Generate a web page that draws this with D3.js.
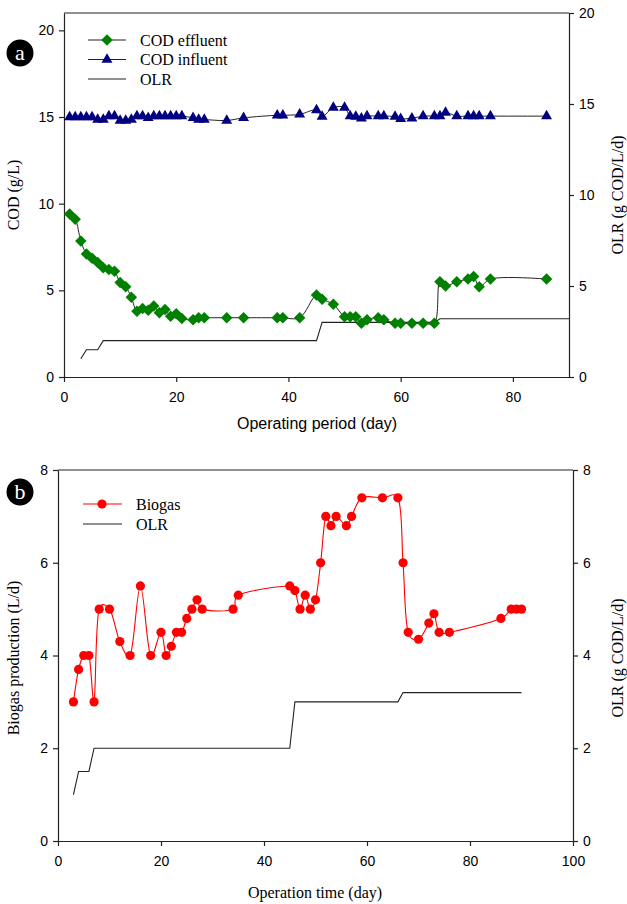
<!DOCTYPE html>
<html>
<head>
<meta charset="utf-8">
<script src="https://cdn.jsdelivr.net/npm/d3@7"></script>
<style>
  body { margin: 0; background: #fff; }
  .tick text { font-family: "Liberation Sans", Arial, sans-serif; font-size: 14px; fill: #000; }
  .domain, .tick line { stroke: #222; stroke-width: 1.2; }
  .serif { font-family: "Liberation Serif", "Times New Roman", serif; }
  .sans { font-family: "Liberation Sans", Arial, sans-serif; }
</style>
</head>
<body>
<svg width="627" height="904"></svg>
<script>
// ---- panel a : COD ----
const codDays = [1, 2, 3, 4, 5, 6, 7, 8, 9, 10, 11, 12, 13, 14, 15, 16, 17, 18, 19, 20, 21, 23, 24, 25, 29, 32, 38, 39, 42,
                 45, 46, 48, 50, 51, 52, 53, 54, 56, 57, 59, 60, 62, 64, 66, 67, 68, 70, 72, 73, 74, 76, 86];
const codEffluent = [9.4, 9.1, 7.85, 7.1, 6.85, 6.6, 6.3, 6.2, 6.1, 5.45, 5.2, 4.6, 3.8, 3.95, 3.85, 4.1, 3.7, 3.9, 3.5, 3.65, 3.38,
                     3.3, 3.42, 3.42, 3.42, 3.42, 3.42, 3.42, 3.42,
                     4.73, 4.48, 4.2, 3.48, 3.48, 3.48, 3.1, 3.3, 3.42, 3.3, 3.1, 3.1, 3.1, 3.1, 3.1,
                     5.5, 5.25, 5.5, 5.65, 5.8, 5.2, 5.65, 5.65];
const codInfluent = [15.0, 15.0, 15.0, 15.0, 15.0, 14.85, 14.85, 15.05, 15.05, 14.8, 14.8, 14.85, 15.05, 15.05, 14.95, 15.05, 15.05,
                     15.05, 15.05, 15.05, 15.05, 14.95, 14.85, 14.85, 14.8, 14.95, 15.1, 15.1, 15.15,
                     15.4, 15.02, 15.55, 15.55, 15.05, 15.02, 14.93, 15.05, 15.05, 15.05, 15.02, 14.9, 14.93, 15.05, 15.05,
                     15.05, 15.25, 15.05, 15.05, 15.05, 15.05, 15.05, 15.05];

// ---- OLR (same schedule in both panels) ----
const olrDaysA = [3, 4, 6, 7, 45, 46, 66, 67, 90];
const olrA = [1.0, 1.5, 1.5, 2.0, 2.0, 3.0, 3.0, 3.2, 3.2];

// ---- panel b : biogas ----
const gasDays = [3, 4, 5, 6, 7, 8, 10, 12, 14, 16, 18, 20, 21, 22, 23, 24, 25, 26, 27, 28, 34, 35,
                 45, 46, 47, 48, 49, 50, 51, 52, 53, 54, 56, 57, 59, 63, 66, 67, 68, 70, 72, 73, 74, 76, 86, 88, 89, 90];
const biogas = [3.0, 3.7, 4.0, 4.0, 3.0, 5.0, 5.0, 4.3, 4.0, 5.5, 4.0, 4.5, 4.0, 4.2, 4.5, 4.5, 4.8, 5.0, 5.2, 5.0, 5.0, 5.3,
                5.5, 5.4, 5.0, 5.3, 5.0, 5.2, 6.0, 7.0, 6.8, 7.0, 6.8, 7.0, 7.4, 7.4, 7.4, 6.0, 4.5, 4.35, 4.7, 4.9, 4.5, 4.5,
                4.8, 5.0, 5.0, 5.0];
const olrDaysB = [3, 4, 6, 7, 45, 46, 66, 67, 90];
const olrB = [1.0, 1.5, 1.5, 2.0, 2.0, 3.0, 3.0, 3.2, 3.2];

const ticksA = [0, 20, 40, 60, 80];
const ticksAy = [0, 5, 10, 15, 20];
const ticksB = [0, 20, 40, 60, 80, 100];
const ticksBy = [0, 2, 4, 6, 8];

const svg = d3.select('svg');

function zip(xs, ys) { return xs.map((d, i) => ({x: d, y: ys[i]})); }

// =============== panel a ===============
const A = {left: 64, right: 569, top: 13, bottom: 377};
const xa = d3.scaleLinear().domain([0, 90]).range([A.left, A.right]);
const ya = d3.scaleLinear().domain([0, 21]).range([A.bottom, A.top]);
const yaR = d3.scaleLinear().domain([0, 20]).range([A.bottom, A.top]);

const ga = svg.append('g');

// box top
ga.append('line').attr('x1', A.left).attr('x2', A.right).attr('y1', A.top).attr('y2', A.top)
  .attr('stroke', '#222').attr('stroke-width', 1.2);

ga.append('g').attr('transform', 'translate(0,' + A.bottom + ')')
  .call(d3.axisBottom(xa).tickValues(ticksA).tickSize(5).tickSizeOuter(0).tickPadding(10));
ga.append('g').attr('transform', 'translate(' + A.left + ',0)')
  .call(d3.axisLeft(ya).tickValues(ticksAy).tickSize(5).tickSizeOuter(0).tickPadding(5));
ga.append('g').attr('transform', 'translate(' + A.right + ',0)')
  .call(d3.axisRight(yaR).tickValues(ticksAy).tickSize(5).tickSizeOuter(0).tickPadding(5));

const lineA = d3.line().x(d => xa(d.x)).y(d => ya(d.y)).curve(d3.curveCatmullRom);
const olrLineA = d3.line().x(d => xa(d.x)).y(d => yaR(d.y));

const effl = zip(codDays, codEffluent);
const infl = zip(codDays, codInfluent);

ga.append('path').datum(zip(olrDaysA, olrA)).attr('d', olrLineA)
  .attr('fill', 'none').attr('stroke', '#222').attr('stroke-width', 1.1);
ga.append('path').datum(effl).attr('d', lineA)
  .attr('fill', 'none').attr('stroke', '#222').attr('stroke-width', 1);
ga.append('path').datum(infl).attr('d', lineA)
  .attr('fill', 'none').attr('stroke', '#222').attr('stroke-width', 1);

const diamond = d3.symbol().type(d3.symbolSquare).size(66);
const tri = d3.symbol().type(d3.symbolTriangle).size(52);

ga.selectAll('.eff').data(effl).enter().append('path')
  .attr('d', diamond)
  .attr('transform', d => 'translate(' + xa(d.x) + ',' + ya(d.y) + ') rotate(45)')
  .attr('fill', '#008000');
ga.selectAll('.inf').data(infl).enter().append('path')
  .attr('d', tri)
  .attr('transform', d => 'translate(' + xa(d.x) + ',' + ya(d.y) + ')')
  .attr('fill', '#000080');

// legend a
const legA = ga.append('g');
[['COD effluent', 'eff'], ['COD influent', 'inf'], ['OLR', 'olr']].forEach((r, i) => {
  const y = 40 + i * 19.5;
  legA.append('line').attr('x1', 88).attr('x2', 126).attr('y1', y).attr('y2', y)
    .attr('stroke', '#222').attr('stroke-width', 1.1);
  if (r[1] === 'eff') legA.append('path').attr('d', diamond).attr('transform', 'translate(107,' + y + ') rotate(45)').attr('fill', '#008000');
  if (r[1] === 'inf') legA.append('path').attr('d', tri).attr('transform', 'translate(107,' + y + ')').attr('fill', '#000080');
  legA.append('text').attr('class', 'serif').attr('x', 140).attr('y', y + 5.5)
    .attr('font-size', 16).text(r[0]);
});

// axis labels a
ga.append('text').attr('class', 'sans').attr('x', 317).attr('y', 429)
  .attr('text-anchor', 'middle').attr('font-size', 16).text('Operating period (day)');
ga.append('text').attr('class', 'serif').attr('transform', 'translate(19,195) rotate(-90)')
  .attr('text-anchor', 'middle').attr('font-size', 16).text('COD (g/L)');
ga.append('text').attr('class', 'serif').attr('transform', 'translate(623,195) rotate(-90)')
  .attr('text-anchor', 'middle').attr('font-size', 16).text('OLR (g COD/L/d)');

// badge a
ga.append('circle').attr('cx', 20).attr('cy', 53).attr('r', 13.5).attr('fill', '#000');
ga.append('text').attr('class', 'serif').attr('x', 20).attr('y', 60).attr('text-anchor', 'middle')
  .attr('font-size', 22).attr('fill', '#fff').text('a');

// =============== panel b ===============
const B = {left: 58, right: 573, top: 470, bottom: 841};
const xb = d3.scaleLinear().domain([0, 100]).range([B.left, B.right]);
const yb = d3.scaleLinear().domain([0, 8]).range([B.bottom, B.top]);
const ybR = d3.scaleLinear().domain([0, 8]).range([B.bottom, B.top]);

const gb = svg.append('g');
gb.append('line').attr('x1', B.left).attr('x2', B.right).attr('y1', B.top).attr('y2', B.top)
  .attr('stroke', '#222').attr('stroke-width', 1.2);

gb.append('g').attr('transform', 'translate(0,' + B.bottom + ')')
  .call(d3.axisBottom(xb).tickValues(ticksB).tickSize(5).tickSizeOuter(0).tickPadding(10));
gb.append('g').attr('transform', 'translate(' + B.left + ',0)')
  .call(d3.axisLeft(yb).tickValues(ticksBy).tickSize(5).tickSizeOuter(0).tickPadding(5));
gb.append('g').attr('transform', 'translate(' + B.right + ',0)')
  .call(d3.axisRight(ybR).tickValues(ticksBy).tickSize(5).tickSizeOuter(0).tickPadding(5));

const gas = zip(gasDays, biogas);
gb.append('path').datum(zip(olrDaysB, olrB))
  .attr('d', d3.line().x(d => xb(d.x)).y(d => ybR(d.y)))
  .attr('fill', 'none').attr('stroke', '#222').attr('stroke-width', 1.1);
gb.append('path').datum(gas)
  .attr('d', d3.line().x(d => xb(d.x)).y(d => yb(d.y)).curve(d3.curveCatmullRom.alpha(0.2)))
  .attr('fill', 'none').attr('stroke', '#ff0000').attr('stroke-width', 1.1);
gb.selectAll('.gas').data(gas).enter().append('circle')
  .attr('cx', d => xb(d.x)).attr('cy', d => yb(d.y)).attr('r', 4.6).attr('fill', '#ff0000');

const legB = gb.append('g');
legB.append('line').attr('x1', 83).attr('x2', 122).attr('y1', 504).attr('y2', 504)
  .attr('stroke', '#ff0000').attr('stroke-width', 1.1);
legB.append('circle').attr('cx', 102).attr('cy', 504).attr('r', 4.6).attr('fill', '#ff0000');
legB.append('text').attr('class', 'serif').attr('x', 136).attr('y', 509.5).attr('font-size', 16).text('Biogas');
legB.append('line').attr('x1', 83).attr('x2', 122).attr('y1', 524).attr('y2', 524)
  .attr('stroke', '#222').attr('stroke-width', 1.1);
legB.append('text').attr('class', 'serif').attr('x', 136).attr('y', 529.5).attr('font-size', 16).text('OLR');

gb.append('text').attr('class', 'serif').attr('x', 315).attr('y', 898)
  .attr('text-anchor', 'middle').attr('font-size', 16).text('Operation time (day)');
gb.append('text').attr('class', 'serif').attr('transform', 'translate(19,658) rotate(-90)')
  .attr('text-anchor', 'middle').attr('font-size', 16).text('Biogas production (L/d)');
gb.append('text').attr('class', 'serif').attr('transform', 'translate(623,658) rotate(-90)')
  .attr('text-anchor', 'middle').attr('font-size', 16).text('OLR (g COD/L/d)');

gb.append('circle').attr('cx', 20).attr('cy', 492).attr('r', 13.5).attr('fill', '#000');
gb.append('text').attr('class', 'serif').attr('x', 20).attr('y', 499).attr('text-anchor', 'middle')
  .attr('font-size', 22).attr('fill', '#fff').text('b');
</script>
</body>
</html>
